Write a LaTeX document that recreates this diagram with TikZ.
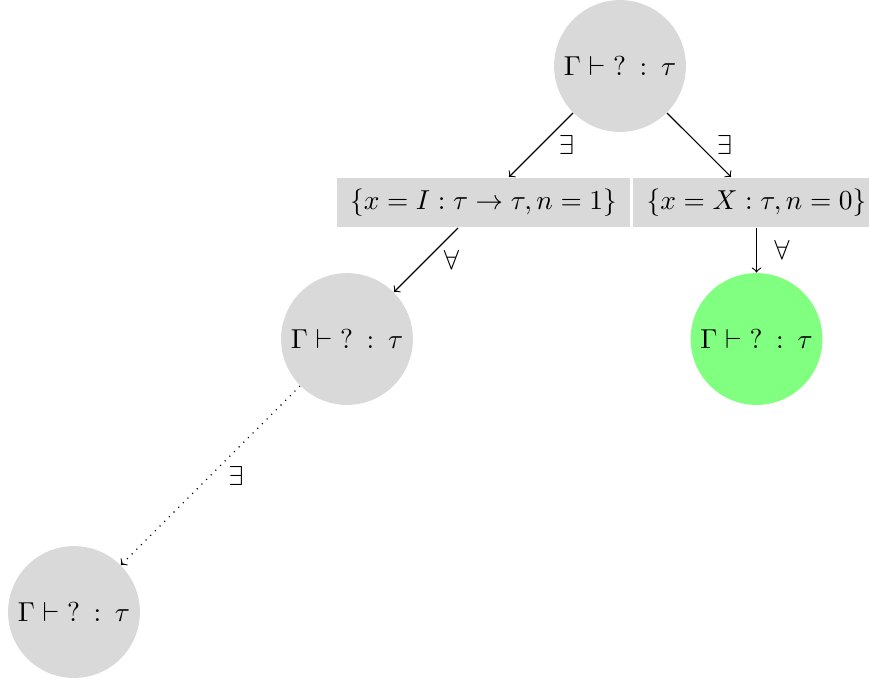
\documentclass[tikz,border=0pt]{standalone}
\newcommand{\judg}{$\Gamma \vdash \; ? \: : \: \tau$}
\begin{document}
\begin{tikzpicture}[x=1.75cm,y=1.75cm,
    goal/.style={circle,fill=gray!30,minimum size=1.69cm,inner sep=0pt},
    solved/.style={goal,fill=green!50},
    subst/.style={fill=gray!30,inner xsep=4.8pt,inner ysep=4.1pt},
    quant/.style={right=3pt}]
  \useasboundingbox (-4.542,-4.527) rectangle (1.824,0.4835);
  \draw
    (0,0) node[goal] (0){\judg}
    (-1,-1) node[subst] (1){$\{x = I : \tau \to \tau, n = 1\}$}
    (1,-1) node[subst] (2){$\{x = X : \tau, n = 0\}$}
    (-2,-2) node[goal] (3){\judg}
    (1,-2) node[solved] (4){\judg}
    (-4,-4) node[goal] (5){\judg};
  \begin{scope}[->]
    \draw (0) to node[quant]{$\exists$} (1);
    \draw (0) to node[quant]{$\exists$} (2);
    \draw (1) to node[quant]{$\forall$} (3);
    \draw (2) to node[quant]{$\forall$} (4);
    \draw[dotted] (3) to node[quant]{$\exists$} (5);
  \end{scope}
\end{tikzpicture}
\end{document}
